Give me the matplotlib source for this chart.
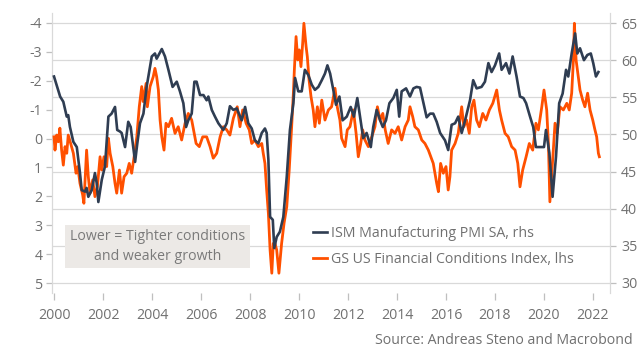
import matplotlib
matplotlib.use("Agg")
import matplotlib.pyplot as plt
from matplotlib.patches import Rectangle
import numpy as np

plt.rcParams['font.family'] = ['Open Sans', 'DejaVu Sans']

# ISM Manufacturing PMI SA (right axis)
ism_dates = [2000.00, 2000.25, 2000.38, 2000.52, 2000.58, 2000.65, 2000.79, 2000.93, 2001.06, 2001.13,
             2001.27, 2001.33, 2001.40, 2001.54, 2001.67, 2001.74, 2001.81, 2001.95, 2002.08, 2002.22,
             2002.35, 2002.49, 2002.58, 2002.69, 2002.76, 2002.90, 2003.03, 2003.13, 2003.31, 2003.40,
             2003.51, 2003.65, 2003.78, 2003.99, 2004.12, 2004.19, 2004.40, 2004.53, 2004.67, 2004.84,
             2005.01, 2005.14, 2005.28, 2005.39, 2005.48, 2005.62, 2005.73, 2005.82, 2005.96, 2006.10,
             2006.23, 2006.30, 2006.44, 2006.57, 2006.71, 2006.91, 2007.05, 2007.18, 2007.32, 2007.46,
             2007.66, 2007.80, 2007.93, 2008.07, 2008.20, 2008.34, 2008.48, 2008.61, 2008.68, 2008.75,
             2008.82, 2008.93, 2008.99, 2009.09, 2009.22, 2009.36, 2009.50, 2009.63, 2009.77, 2009.84,
             2009.97, 2010.11, 2010.24, 2010.38, 2010.52, 2010.65, 2010.79, 2010.93, 2011.06, 2011.16,
             2011.27, 2011.40, 2011.51, 2011.65, 2011.78, 2011.95, 2012.11, 2012.24, 2012.38, 2012.52,
             2012.62, 2012.76, 2012.93, 2013.03, 2013.17, 2013.31, 2013.42, 2013.55, 2013.69, 2013.85,
             2013.99, 2014.09, 2014.19, 2014.37, 2014.53, 2014.67, 2014.80, 2014.94, 2015.07, 2015.21,
             2015.35, 2015.48, 2015.62, 2015.76, 2015.96, 2016.09, 2016.23, 2016.37, 2016.50, 2016.64,
             2016.78, 2016.98, 2017.11, 2017.25, 2017.45, 2017.59, 2017.73, 2017.86, 2018.00, 2018.17,
             2018.27, 2018.45, 2018.59, 2018.72, 2018.88, 2019.02, 2019.16, 2019.27, 2019.43, 2019.56,
             2019.67, 2019.84, 2020.00, 2020.08, 2020.22, 2020.35, 2020.49, 2020.62, 2020.76, 2020.90,
             2020.99, 2021.13, 2021.27, 2021.36, 2021.47, 2021.63, 2021.77, 2021.91, 2022.01, 2022.12,
             2022.22]
ism_values = [57.8, 55.1, 54.4, 52.4, 52.6, 51.0, 49.0, 48.3, 44.8, 42.5,
              42.3, 42.8, 41.6, 42.5, 44.8, 43.5, 40.9, 43.9, 45.7, 52.4,
              52.8, 53.7, 50.6, 50.4, 50.2, 48.3, 51.7, 51.0, 46.3, 48.8,
              51.5, 52.8, 56.4, 60.5, 60.9, 60.2, 61.5, 60.5, 58.7, 56.4,
              57.1, 55.8, 54.2, 51.0, 51.9, 52.8, 57.1, 57.1, 55.3, 55.3,
              54.6, 55.1, 53.3, 52.4, 51.5, 50.6, 51.5, 53.8, 53.3, 53.5,
              51.9, 53.7, 51.5, 50.8, 49.2, 48.8, 50.2, 50.8, 50.2, 46.6,
              38.9, 38.5, 34.7, 36.2, 36.9, 38.9, 44.3, 50.6, 54.2, 57.6,
              55.8, 55.8, 58.7, 58.0, 56.7, 56.0, 56.4, 57.3, 58.2, 59.3,
              58.2, 56.0, 54.0, 55.1, 51.9, 52.4, 53.7, 52.4, 54.9, 51.7,
              49.5, 50.2, 48.3, 51.0, 53.3, 51.9, 51.0, 51.9, 54.2, 54.9,
              56.0, 52.4, 55.8, 56.2, 55.1, 56.2, 56.4, 56.3, 54.4, 52.3,
              52.8, 52.8, 51.7, 50.2, 49.2, 47.9, 51.3, 51.5, 52.4, 50.2,
              51.9, 54.6, 57.3, 56.2, 56.4, 57.1, 59.6, 58.4, 59.3, 60.9,
              58.7, 59.6, 58.2, 60.5, 57.8, 55.1, 54.9, 54.2, 52.4, 51.0,
              48.3, 48.3, 48.3, 50.6, 47.5, 41.6, 47.0, 54.2, 55.5, 58.7,
              57.8, 60.9, 63.6, 60.9, 61.6, 60.0, 60.7, 60.9, 59.6, 57.8,
              58.4]

# GS US Financial Conditions Index (left axis, inverted)
fci_dates = [2000.00, 2000.04, 2000.11, 2000.18, 2000.24, 2000.31, 2000.38, 2000.45, 2000.52, 2000.58,
             2000.68, 2000.79, 2000.90, 2000.97, 2001.06, 2001.17, 2001.22, 2001.33, 2001.40, 2001.47,
             2001.58, 2001.67, 2001.77, 2001.88, 2001.95, 2002.04, 2002.15, 2002.22, 2002.29, 2002.40,
             2002.49, 2002.56, 2002.67, 2002.76, 2002.86, 2002.97, 2003.07, 2003.17, 2003.27, 2003.38,
             2003.48, 2003.58, 2003.64, 2003.76, 2003.81, 2003.92, 2004.05, 2004.12, 2004.19, 2004.26,
             2004.33, 2004.40, 2004.49, 2004.57, 2004.67, 2004.80, 2004.94, 2005.07, 2005.21, 2005.35,
             2005.48, 2005.62, 2005.80, 2005.93, 2006.07, 2006.23, 2006.37, 2006.50, 2006.64, 2006.78,
             2006.91, 2007.05, 2007.18, 2007.32, 2007.48, 2007.59, 2007.70, 2007.84, 2007.97, 2008.07,
             2008.20, 2008.34, 2008.48, 2008.54, 2008.61, 2008.68, 2008.75, 2008.82, 2008.89, 2008.95,
             2009.02, 2009.09, 2009.18, 2009.29, 2009.39, 2009.50, 2009.60, 2009.70, 2009.77, 2009.81,
             2009.88, 2009.95, 2010.01, 2010.08, 2010.15, 2010.20, 2010.29, 2010.34, 2010.41, 2010.49,
             2010.58, 2010.65, 2010.75, 2010.83, 2010.93, 2011.06, 2011.20, 2011.33, 2011.47, 2011.56,
             2011.67, 2011.74, 2011.88, 2011.97, 2012.08, 2012.22, 2012.33, 2012.42, 2012.52, 2012.60,
             2012.69, 2012.83, 2012.97, 2013.10, 2013.20, 2013.31, 2013.42, 2013.52, 2013.64, 2013.78,
             2013.92, 2014.05, 2014.19, 2014.33, 2014.46, 2014.53, 2014.64, 2014.73, 2014.87, 2015.01,
             2015.14, 2015.28, 2015.48, 2015.62, 2015.69, 2015.78, 2015.89, 2016.00, 2016.09, 2016.16,
             2016.23, 2016.37, 2016.50, 2016.64, 2016.73, 2016.84, 2016.95, 2017.05, 2017.14, 2017.25,
             2017.36, 2017.50, 2017.63, 2017.77, 2017.91, 2018.07, 2018.18, 2018.27, 2018.41, 2018.54,
             2018.68, 2018.82, 2018.93, 2019.02, 2019.13, 2019.27, 2019.40, 2019.54, 2019.67, 2019.77,
             2019.91, 2020.00, 2020.11, 2020.18, 2020.24, 2020.31, 2020.38, 2020.45, 2020.54, 2020.65,
             2020.79, 2020.93, 2021.03, 2021.13, 2021.20, 2021.24, 2021.31, 2021.38, 2021.47, 2021.58,
             2021.67, 2021.78, 2021.88, 2021.99, 2022.08, 2022.15, 2022.22, 2022.26]
fci_values = [-0.06, 0.40, -0.12, 0.11, -0.36, 0.40, 0.92, 0.28, 0.51, -0.12,
              0.17, 0.51, 1.20, 0.97, 1.55, 1.95, 2.24, 0.40, 1.32, 1.89,
              1.43, 2.01, 1.67, 0.63, 1.09, 0.63, 0.97, -0.01, 0.51, 0.97,
              1.55, 1.89, 1.09, 1.89, 1.32, 1.20, 0.86, 1.20, 0.63, -0.06,
              -1.10, -1.80, -1.28, -1.91, -1.10, -1.80, -2.14, -2.43, -2.14, -1.68,
              -0.64, -0.06, 0.40, -0.53, -0.41, -0.70, -0.18, -0.41, 0.05, -0.53,
              -0.87, -0.64, 0.17, 0.28, -0.06, -0.06, 0.28, 0.68, 0.51, -0.06,
              -0.41, -0.30, -0.12, -0.70, -1.10, -0.41, -0.99, -0.53, -0.30, 0.17,
              0.05, 0.28, 0.17, 0.51, 0.86, 1.78, 2.59, 3.86, 4.66, 3.63,
              3.63, 3.86, 4.66, 3.63, 2.93, 2.36, 1.09, -0.41, -1.57, -2.37,
              -3.53, -2.72, -3.07, -2.49, -3.30, -3.99, -3.18, -2.83, -2.03, -1.45,
              -0.99, -0.41, -1.10, -0.53, -1.33, -0.64, -0.99, -1.10, -1.74, -1.10,
              -0.64, -0.01, 0.28, -0.30, -0.41, -0.99, -0.18, 0.63, 0.17, -0.30,
              0.05, 0.28, -0.06, -0.41, -1.10, -0.64, -0.87, -0.30, 0.17, -0.30,
              -0.18, -0.41, 0.05, -0.41, -0.64, -1.10, -0.76, -0.41, -0.30, 0.05,
              0.17, 0.40, 0.86, 1.55, 1.84, 0.86, 1.20, 0.97, 1.78, 1.32,
              0.40, 0.17, -0.18, -1.10, -0.41, -0.64, -0.18, -1.10, -1.33, -0.64,
              -0.41, -0.87, -0.64, -0.99, -1.22, -1.68, -0.99, -0.64, -0.18, -0.06,
              0.28, 0.40, 0.86, 1.67, 1.09, 0.63, 0.17, 0.40, -0.53, -0.30,
              -1.10, -1.68, -0.99, 0.17, 2.19, 1.32, 0.40, -0.53, -0.18, -1.10,
              -0.99, -1.22, -0.99, -1.57, -2.72, -3.99, -2.72, -2.26, -1.68, -1.33,
              -1.10, -1.57, -0.99, -0.64, -0.30, -0.06, 0.51, 0.63]

x_ticks = [2000, 2002, 2004, 2006, 2008, 2010, 2012, 2014, 2016, 2018, 2020, 2022]
left_ticks = [-4, -3, -2, -1, 0, 1, 2, 3, 4, 5]
right_ticks = [30, 35, 40, 45, 50, 55, 60, 65]

ism_label = "ISM Manufacturing PMI SA, rhs"
fci_label = "GS US Financial Conditions Index, lhs"
note_text = "Lower = Tighter conditions\nand weaker growth"
source_text = "Source: Andreas Steno and Macrobond"

NAVY = '#2f3d52'
ORANGE = '#ff5000'
GRID = '#d9d9d9'
TXT = '#707070'
FS = 10.2

W, H = 642, 353
fig = plt.figure(figsize=(W / 100, H / 100), dpi=100)
ax = fig.add_axes([52 / W, 1 - 293 / H, (610 - 52) / W, (293 - 13) / H])
ax2 = ax.twinx()

# scales
r_top, r_bot = 66.35, 28.65
l_top, l_bot = -4.346, 5.346
ax.set_ylim(l_bot, l_top)
ax2.set_ylim(r_bot, r_top)
ax.set_xlim(1999.918, 2022.694)

# gridlines at the right axis ticks (drawn in the lower axes so lines sit above them)
def r_to_l(v):
    return l_top + (r_top - v) * (l_bot - l_top) / (r_top - r_bot)
ax.set_yticks([r_to_l(v) for v in right_ticks], minor=True)
ax.grid(which='minor', axis='y', color=GRID, linewidth=0.9)
ax.tick_params(which='minor', left=False, right=False)

ax.plot(fci_dates, fci_values, color=ORANGE, linewidth=2.0, label=fci_label, zorder=3)
ax2.plot(ism_dates, ism_values, color=NAVY, linewidth=1.9, label=ism_label, zorder=3)

ax.set_yticks(left_ticks)
ax.set_yticklabels([str(t) for t in left_ticks])
ax2.set_yticks(right_ticks)
ax.set_xticks(x_ticks)

for a in (ax, ax2):
    for s in ('top', 'bottom'):
        a.spines[s].set_visible(False)
    for s in ('left', 'right'):
        a.spines[s].set_color(GRID)
        a.spines[s].set_linewidth(0.9)
ax.spines['right'].set_visible(False)
ax2.spines['left'].set_visible(False)

ax.tick_params(axis='y', which='major', length=4, width=0.9, color='#bfbfbf',
               labelsize=FS, labelcolor=TXT, pad=3)
ax2.tick_params(axis='y', length=4, width=0.9, color='#bfbfbf',
                labelsize=FS, labelcolor=TXT, pad=4)
ax.tick_params(axis='x', length=5, width=0.9, color='#bfbfbf',
               labelsize=FS, labelcolor=TXT, pad=6)

# legend
h1, l1 = ax2.get_legend_handles_labels()
h2, l2 = ax.get_legend_handles_labels()
leg = fig.legend(h1 + h2, l1 + l2, loc='upper left',
                 bbox_to_anchor=(313 / W, 1 - 226 / H), frameon=False,
                 borderpad=0, borderaxespad=0, handlelength=1.0,
                 handletextpad=0.25, labelspacing=0.75, fontsize=FS)
for t in leg.get_texts():
    t.set_color(TXT)

# annotation box
fig.patches.append(Rectangle((65 / W, 1 - 268 / H), 185 / W, 43 / H,
                             transform=fig.transFigure, facecolor='#ece9e6',
                             edgecolor='none', zorder=5))
fig.text(157.5 / W, 1 - 246.5 / H, note_text, ha='center', va='center',
         fontsize=FS, color='#7a7a7a', linespacing=1.4, zorder=6)

fig.text(633 / W, 1 - 340 / H, source_text, ha='right', va='center',
         fontsize=FS, color=TXT)

fig.savefig('out.png', dpi=100)
